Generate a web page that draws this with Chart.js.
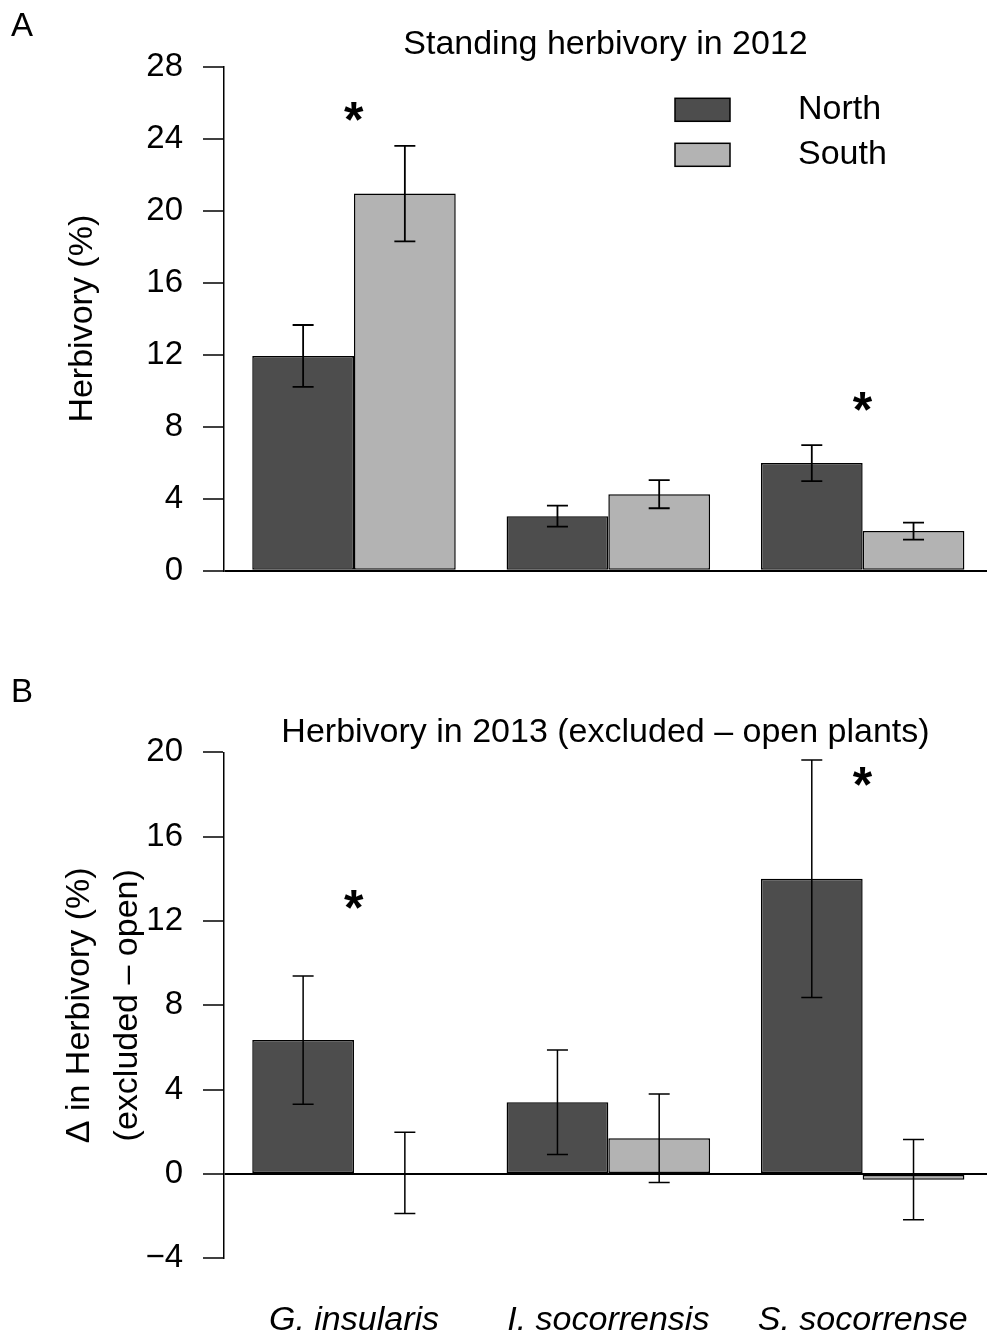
<!DOCTYPE html>
<html><head><meta charset="utf-8">
<script src="https://cdn.jsdelivr.net/npm/chart.js@4.4.1/dist/chart.umd.min.js"></script>
<style>
html,body{margin:0;padding:0;background:#fff;overflow:hidden;width:987px;height:1335px;}
#wrapA{position:absolute;left:0;top:0;width:987px;height:620px;}
#wrapB{position:absolute;left:0;top:640px;width:987px;height:695px;}
.panel{position:absolute;font-family:"Liberation Sans",Arial,Helvetica,sans-serif;font-size:33px;color:#000;line-height:1;}
</style></head><body>
<div id="wrapA"><canvas id="cA" width="987" height="620" style="width:987px;height:620px"></canvas></div>
<div id="wrapB"><canvas id="cB" width="987" height="695" style="width:987px;height:695px"></canvas></div>
<div class="panel" style="left:11px;top:8px">A</div>
<div class="panel" style="left:11px;top:674px">B</div>
<script>
// ---------- DATA ----------
const categories = ['G. insularis', 'I. socorrensis', 'S. socorrense'];
const seriesNames = ['North', 'South'];

// Panel A: standing herbivory 2012 (%)
const north2012 = [11.93, 3.03, 5.98];
const north2012SE = [1.72, 0.58, 1.00];
const south2012 = [20.95, 4.25, 2.20];
const south2012SE = [2.65, 0.78, 0.47];
const ticksA = [0, 4, 8, 12, 16, 20, 24, 28];
const starsA_cat = [1, 3];
const starsA_y = [25.5, 9.4];

// Panel B: delta herbivory 2013 (excluded - open)
const north2013 = [6.35, 3.40, 14.00];
const north2013SE = [3.04, 2.48, 5.63];
const south2013 = [0.05, 1.69, -0.27];
const south2013SE = [1.93, 2.10, 1.90];
const ticksB = [-4, 0, 4, 8, 12, 16, 20];
const starsB_cat = [1, 3];
const starsB_y = [13.0, 18.85];

// ---------- STYLE ----------
const FONT = '"Liberation Sans", Arial, Helvetica, sans-serif';
const northColor = '#4d4d4d';
const southColor = '#b3b3b3';

const errorBarPlugin = {
  id: 'errorBars',
  afterDatasetsDraw(chart, args, opts) {
    const ctx = chart.ctx, ys = chart.scales.y;
    chart.data.datasets.forEach((ds, di) => {
      const meta = chart.getDatasetMeta(di);
      meta.data.forEach((bar, i) => {
        const v = ds.data[i].y, e = ds.errors[i];
        const t = ys.getPixelForValue(v + e), b = ys.getPixelForValue(v - e);
        const h = opts.cap / 2;
        ctx.save();
        ctx.strokeStyle = '#000';
        ctx.lineWidth = opts.width;
        ctx.beginPath();
        ctx.moveTo(bar.x, t); ctx.lineTo(bar.x, b);
        ctx.moveTo(bar.x - h, t); ctx.lineTo(bar.x + h, t);
        ctx.moveTo(bar.x - h, b); ctx.lineTo(bar.x + h, b);
        ctx.stroke();
        ctx.restore();
      });
    });
  }
};

const starsPlugin = {
  id: 'stars',
  afterDraw(chart, args, opts) {
    const ctx = chart.ctx, xs = chart.scales.x, ys = chart.scales.y;
    ctx.save();
    let F = 40;
    ctx.font = 'bold ' + F + 'px ' + FONT;
    let m = ctx.measureText('*');
    const w0 = m.actualBoundingBoxLeft + m.actualBoundingBoxRight;
    F = F * opts.inkWidth / w0;
    ctx.font = 'bold ' + F + 'px ' + FONT;
    m = ctx.measureText('*');
    ctx.fillStyle = '#000';
    ctx.textAlign = 'left';
    ctx.textBaseline = 'alphabetic';
    opts.cats.forEach((c, i) => {
      const cx = xs.getPixelForValue(c), cy = ys.getPixelForValue(opts.ys[i]);
      const x = cx - (m.actualBoundingBoxRight - m.actualBoundingBoxLeft) / 2;
      const y = cy - (m.actualBoundingBoxDescent - m.actualBoundingBoxAscent) / 2;
      ctx.fillText('*', x, y);
    });
    ctx.restore();
  }
};

const boxLegendPlugin = {
  id: 'boxLegend',
  afterDraw(chart, args, opts) {
    if (!opts.show) return;
    const ctx = chart.ctx;
    ctx.save();
    chart.data.datasets.forEach((ds, i) => {
      const y = opts.y[i];
      ctx.fillStyle = ds.backgroundColor;
      ctx.fillRect(opts.x, y, opts.w, opts.h);
      ctx.strokeStyle = '#000';
      ctx.lineWidth = 1.5;
      ctx.strokeRect(opts.x, y, opts.w, opts.h);
      ctx.fillStyle = '#000';
      ctx.font = '34px ' + FONT;
      ctx.textBaseline = 'middle';
      ctx.textAlign = 'left';
      ctx.fillText(ds.label, opts.textX, y + opts.h / 2);
    });
    ctx.restore();
  }
};

function makeConfig(o) {
  const mk = (vals, se, name, color) => ({
    label: name,
    data: categories.map((c, i) => ({ x: i + 1, y: vals[i] })),
    errors: se,
    backgroundColor: color,
    borderColor: '#000',
    borderWidth: 1.5,
    borderSkipped: false,
    categoryPercentage: 0.8,
    barPercentage: 1.0
  });
  return {
    type: 'bar',
    data: { datasets: [mk(o.north, o.northSE, seriesNames[0], northColor), mk(o.south, o.southSE, seriesNames[1], southColor)] },
    options: {
      responsive: false, animation: false, devicePixelRatio: 1,
      layout: { padding: o.padding },
      plugins: {
        legend: { display: false },
        tooltip: { enabled: false },
        title: { display: true, text: o.title, fullSize: false, color: '#000',
                 font: { family: FONT, size: 34, weight: 'normal', lineHeight: 1 }, padding: o.titlePad },
        errorBars: { width: o.errWidth, cap: 21 },
        stars: { cats: o.starCats, ys: o.starYs, inkWidth: 20 },
        boxLegend: { show: o.legend, x: 675, y: [98.3, 143.3], w: 55, h: 23, textX: 798 }
      },
      scales: {
        x: {
          type: 'linear', offset: false, min: 0.4889, max: 3.4889,
          afterBuildTicks: s => { s.ticks = categories.map((c, i) => ({ value: i + 1 })); },
          ticks: { display: o.showXLabels, callback: v => categories[v - 1] || '', color: '#000',
                   font: { family: FONT, size: 34, style: 'italic' }, padding: 42, maxRotation: 0, autoSkip: false },
          grid: { display: false, drawTicks: false },
          border: { display: false },
          afterFit: s => { s.height = o.xHeight; s.paddingLeft = 0; s.paddingRight = 0; }
        },
        y: {
          min: o.ticks[0], max: o.ticks[o.ticks.length - 1],
          afterBuildTicks: s => { s.ticks = o.ticks.map(v => ({ value: v })); },
          ticks: { color: '#000', padding: 20, font: { family: FONT, size: 33 },
                   callback: v => String(v).replace('-', '\u2212') },
          grid: {
            color: c => (c.tick && c.tick.value === 0) ? '#000' : 'rgba(0,0,0,0)',
            lineWidth: 2, tickColor: '#000', tickWidth: 1.5, tickLength: 21, drawTicks: true
          },
          border: { display: true, color: '#000', width: 1.5 },
          title: { display: true, text: o.yTitle, color: '#000',
                   font: { family: FONT, size: 34, lineHeight: o.yLH }, padding: { top: o.yTitlePad, bottom: 0 } },
          afterFit: s => { s.width = 224; }
        }
      }
    },
    plugins: [errorBarPlugin, starsPlugin, boxLegendPlugin]
  };
}

new Chart(document.getElementById('cA'), makeConfig({
  north: north2012, northSE: north2012SE, south: south2012, southSE: south2012SE,
  ticks: ticksA, title: 'Standing herbivory in 2012', titlePad: { top: 28, bottom: 4.7 },
  padding: { left: 0, right: 0, top: 0, bottom: 49.3 }, xHeight: 0, showXLabels: false,
  yTitle: 'Herbivory (%)', yLH: 1.2, yTitlePad: 62.6, errWidth: 1.8,
  starCats: starsA_cat, starYs: starsA_y, legend: true
}));

new Chart(document.getElementById('cB'), makeConfig({
  north: north2013, northSE: north2013SE, south: south2013, southSE: south2013SE,
  ticks: ticksB, title: 'Herbivory in 2013 (excluded \u2013 open plants)', titlePad: { top: 76, bottom: 2.3 },
  padding: { left: 0, right: 0, top: 0, bottom: 0 }, xHeight: 76.7, showXLabels: true,
  yTitle: ['\u0394 in Herbivory (%)', '(excluded \u2013 open)'], yLH: 1.41, yTitlePad: 56, errWidth: 1.5,
  starCats: starsB_cat, starYs: starsB_y, legend: false
}));
</script>
</body></html>
